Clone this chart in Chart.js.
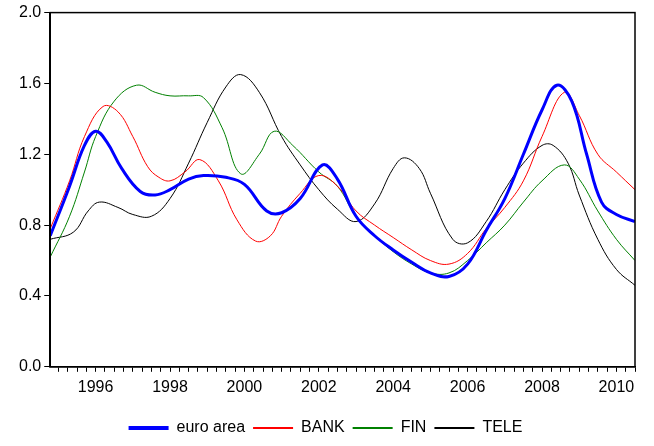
<!DOCTYPE html>
<html>
<head>
<script src="https://cdn.jsdelivr.net/npm/chart.js@4"></script>
<style>
body { margin: 0; background: #fff; }
#wrap { width: 654px; height: 446px; }
</style>
</head>
<body>
<div id="wrap"><canvas id="myChart"></canvas></div>
<script>
var euroX = [1994.78, 1995.3, 1995.7, 1996.0, 1996.3, 1996.7, 1997.2, 1997.6, 1998.0, 1998.5, 1998.9, 1999.5, 2000.0, 2000.6, 2001.0, 2001.5, 2002.1, 2002.5, 2003.0, 2003.5, 2004.0, 2004.5, 2005.0, 2005.5, 2006.0, 2006.5, 2007.0, 2007.5, 2008.0, 2008.4, 2008.8, 2009.2, 2009.6, 2010.0, 2010.5];
var euroY = [0.74, 1.02, 1.25, 1.33, 1.27, 1.12, 0.99, 0.97, 1.0, 1.06, 1.08, 1.07, 1.03, 0.88, 0.87, 0.95, 1.14, 1.06, 0.85, 0.74, 0.66, 0.59, 0.53, 0.51, 0.58, 0.77, 0.95, 1.2, 1.45, 1.59, 1.5, 1.2, 0.93, 0.86, 0.82];

var bankX = [1994.78, 1995.3, 1995.7, 1996.2, 1996.6, 1997.0, 1997.4, 1997.7, 1998.0, 1998.4, 1998.8, 1999.3, 1999.8, 2000.3, 2000.7, 2001.0, 2001.5, 2002.0, 2002.5, 2003.0, 2003.5, 2004.0, 2004.5, 2005.0, 2005.5, 2006.0, 2006.5, 2007.0, 2007.5, 2008.0, 2008.6, 2009.0, 2009.5, 2010.0, 2010.5];
var bankY = [0.78, 1.05, 1.3, 1.47, 1.44, 1.3, 1.13, 1.07, 1.05, 1.1, 1.17, 1.05, 0.83, 0.71, 0.74, 0.85, 0.98, 1.08, 1.02, 0.88, 0.8, 0.73, 0.66, 0.6, 0.58, 0.64, 0.78, 0.9, 1.05, 1.3, 1.55, 1.42, 1.2, 1.1, 1.0];

var finX = [1994.78, 1995.3, 1995.7, 1996.0, 1996.5, 1997.1, 1997.6, 1998.0, 1998.5, 1998.9, 1999.4, 1999.9, 2000.4, 2000.8, 2001.3, 2002.0, 2002.5, 2003.0, 2003.5, 2004.0, 2004.5, 2005.0, 2005.5, 2006.0, 2006.5, 2007.0, 2007.5, 2008.0, 2008.6, 2009.0, 2009.5, 2010.0, 2010.5];
var finY = [0.62, 0.85, 1.1, 1.3, 1.5, 1.59, 1.55, 1.53, 1.53, 1.52, 1.35, 1.09, 1.2, 1.33, 1.25, 1.1, 1.02, 0.85, 0.74, 0.65, 0.58, 0.53, 0.53, 0.6, 0.7, 0.8, 0.93, 1.05, 1.14, 1.06, 0.88, 0.72, 0.6];

var teleX = [1994.78, 1995.4, 1995.8, 1996.1, 1996.6, 1997.0, 1997.5, 1998.0, 1998.5, 1999.0, 1999.5, 1999.9, 2000.4, 2001.0, 2001.5, 2002.0, 2002.5, 2003.0, 2003.5, 2004.0, 2004.3, 2004.7, 2005.0, 2005.6, 2006.0, 2006.5, 2007.0, 2007.5, 2008.0, 2008.3, 2008.7, 2009.0, 2009.5, 2010.0, 2010.5];
var teleY = [0.72, 0.76, 0.88, 0.93, 0.9, 0.86, 0.85, 0.95, 1.15, 1.38, 1.58, 1.65, 1.55, 1.3, 1.14, 1.0, 0.89, 0.82, 0.92, 1.12, 1.18, 1.12, 0.98, 0.72, 0.7, 0.82, 1.0, 1.15, 1.25, 1.25, 1.15, 0.97, 0.72, 0.55, 0.46];

var yearTicks = [1996, 1998, 2000, 2002, 2004, 2006, 2008, 2010];

function pts(xs, ys) {
  return xs.map(function(x, i) { return {x: x, y: ys[i]}; });
}

function series(label, xs, ys, color, width) {
  return {
    label: label,
    data: pts(xs, ys),
    borderColor: color,
    backgroundColor: color,
    borderWidth: width,
    pointRadius: 0,
    tension: 0.4,
    fill: false
  };
}

var ctx = document.getElementById('myChart').getContext('2d');
var chart = new Chart(ctx, {
  type: 'line',
  data: {
    datasets: [
      series('euro area', euroX, euroY, '#0000ff', 3),
      series('BANK', bankX, bankY, '#ff0000', 1),
      series('FIN', finX, finY, '#008000', 1),
      series('TELE', teleX, teleY, '#000000', 1)
    ]
  },
  options: {
    responsive: true,
    maintainAspectRatio: false,
    animation: false,
    layout: { padding: { top: 8, right: 19, left: 16, bottom: 0 } },
    plugins: {
      legend: {
        position: 'bottom',
        labels: {
          boxWidth: 40, boxHeight: 0, padding: 8,
          color: '#000',
          font: { family: 'Liberation Sans', size: 16 },
          generateLabels: function(c) {
            return c.data.datasets.map(function(d, i) {
              return { text: d.label, strokeStyle: d.borderColor, fillStyle: d.borderColor,
                lineWidth: d.borderWidth + 1, datasetIndex: i, fontColor: '#000' };
            });
          }
        }
      },
      tooltip: { enabled: false }
    },
    scales: {
      x: {
        type: 'linear',
        min: 1994.78, max: 2010.5,
        afterBuildTicks: function(s) {
          var t = [];
          for (var v = 1995.0; v <= 2010.5; v += 0.25) t.push({ value: v });
          s.ticks = t;
        },
        ticks: {
          autoSkip: false, maxRotation: 0, color: '#000',
          font: { family: 'Liberation Sans', size: 16 },
          padding: 6,
          callback: function(v) { return yearTicks.indexOf(v) >= 0 ? String(v) : ''; }
        },
        afterFit: function(s) { s.height += 9; },
        grid: { drawOnChartArea: false, tickLength: 5, color: '#000' },
        border: { color: '#000', width: 1.5 }
      },
      y: {
        min: 0, max: 2.0,
        ticks: {
          stepSize: 0.4, color: '#000',
          font: { family: 'Liberation Sans', size: 16 },
          callback: function(v) { return v.toFixed(1); }
        },
        grid: { drawOnChartArea: false, tickLength: 6, color: '#000' },
        border: { color: '#000', width: 1.5 }
      }
    }
  },
  plugins: [{
    id: 'frame',
    afterDraw: function(c) {
      var a = c.chartArea, g = c.ctx;
      g.save();
      g.strokeStyle = '#000';
      g.lineWidth = 1.5;
      g.strokeRect(a.left, a.top, a.right - a.left, a.bottom - a.top);
      g.restore();
    }
  }]
});
</script>
</body>
</html>
